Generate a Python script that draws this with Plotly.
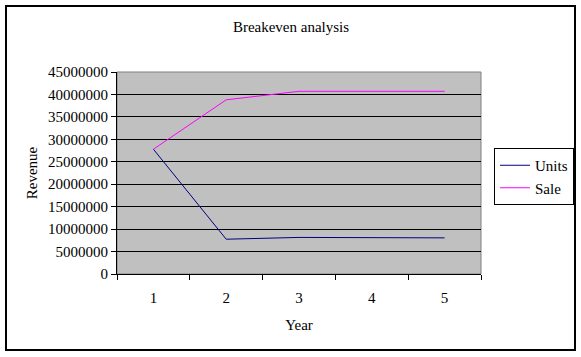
import plotly.graph_objects as go

years = ["1", "2", "3", "4", "5"]
units = [27800000, 7750000, 8150000, 8050000, 8050000]
sale = [27800000, 38800000, 40700000, 40700000, 40700000]
y_ticks = [0, 5000000, 10000000, 15000000, 20000000, 25000000, 30000000, 35000000, 40000000, 45000000]

FONT = "Liberation Serif"

fig = go.Figure()
fig.add_trace(go.Scatter(x=years, y=units, mode="lines", name="Units",
                         line=dict(color="#000080", width=1)))
fig.add_trace(go.Scatter(x=years, y=sale, mode="lines", name="Sale",
                         line=dict(color="#FF00FF", width=1)))

fig.update_layout(
    width=581, height=357,
    margin=dict(l=117, r=100, t=72, b=83, autoexpand=False),
    paper_bgcolor="white",
    plot_bgcolor="#C0C0C0",
    font=dict(family=FONT, size=15, color="black"),
    title=dict(text="Breakeven analysis", x=291 / 581, xanchor="center",
               y=1 - 27 / 357, yanchor="middle", font=dict(family=FONT, size=15)),
    showlegend=True,
    legend=dict(x=(494 - 117) / 364, xanchor="left", y=(274 - 148) / 202, yanchor="top",
                bordercolor="black", borderwidth=1, bgcolor="white",
                font=dict(family=FONT, size=15), itemwidth=30,
                tracegroupgap=0),
    xaxis=dict(type="category", range=[-0.5, 4.5], tickson="boundaries", ticks="outside",
               ticklen=5, tickcolor="black", showgrid=False, showline=True, linecolor="black",
               linewidth=1, ticklabelstandoff=10,
               title=dict(text="Year", standoff=14, font=dict(family=FONT, size=15))),
    yaxis=dict(range=[0, 45000000], tickvals=y_ticks, tickformat="d", ticks="outside",
               ticklen=5, tickcolor="black", showgrid=True, gridcolor="black", gridwidth=1,
               zeroline=False, showline=True, linecolor="black", linewidth=1,
               ticklabelstandoff=0,
               title=dict(text="Revenue", standoff=6, font=dict(family=FONT, size=15))),
    shapes=[
        dict(type="rect", xref="paper", yref="paper", x0=0, x1=1, y0=0, y1=1,
             line=dict(color="#808080", width=1), layer="below"),
        dict(type="rect", xref="paper", yref="paper",
             x0=(6 - 117) / 364, x1=(575 - 117) / 364,
             y0=(274 - 350) / 202, y1=(274 - 6) / 202,
             line=dict(color="black", width=2)),
    ],
)

fig.write_html("out.html", config={"displayModeBar": False},
               post_script="document.body.style.margin='0';document.body.style.overflow='hidden';")
